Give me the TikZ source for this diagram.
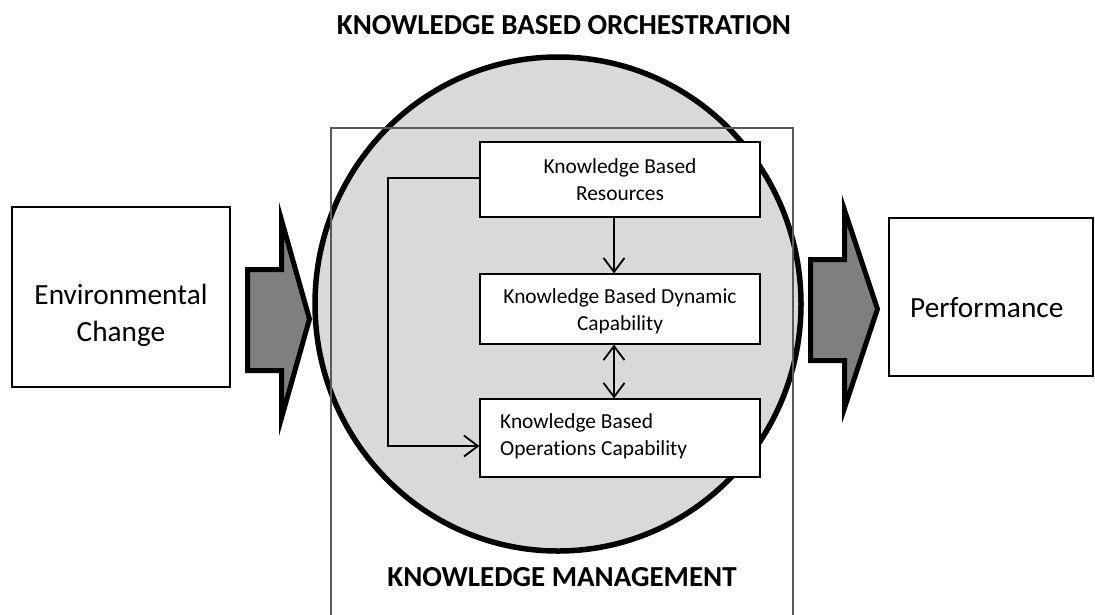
\documentclass[tikz,border=0pt]{standalone}
\usepackage{fontspec}
\setmainfont{Carlito}[Ligatures={NoCommon}]
\usetikzlibrary{arrows.meta}
\definecolor{arrowgray}{HTML}{7F7F7F}
\definecolor{circlegray}{HTML}{D9D9D9}
\definecolor{framegray}{HTML}{5A5A5A}
\begin{document}
\begin{tikzpicture}[x=1pt,y=-1pt,
  box/.style={draw=black, line width=1.2pt, fill=white, inner sep=0pt},
  boxtext/.style={font=\fontsize{21.4}{27.5}\selectfont, inner sep=0pt},
  bigtext/.style={font=\fontsize{29.3}{37}\selectfont, inner sep=0pt},
  heading/.style={font=\fontsize{29}{32}\selectfont\bfseries, inner sep=0pt},
  blockarrow/.style={draw=black, line width=5pt, fill=arrowgray, miter limit=10},
  flow/.style={line width=1.8pt, -{Straight Barb[length=14pt,width=21pt,line width=1.8pt]}},
  twoway/.style={line width=1.8pt, {Straight Barb[length=14pt,width=21pt,line width=1.8pt]}-{Straight Barb[length=14pt,width=21pt,line width=1.8pt]}}]
\useasboundingbox (0,0) rectangle (1095,614);

% orchestration circle and knowledge management frame
\draw[fill=circlegray, line width=5.5pt] (558,304) ellipse [x radius=243, y radius=247];
\draw[framegray, line width=1.5pt] (331,128) rectangle (793,625);

% headings
\node[heading] (orch) at (564,25) {KNOWLEDGE BASED ORCHESTRATION};
\node[heading] (km) at (562,577) {KNOWLEDGE MANAGEMENT};

% outer boxes
\node[box, minimum width=218pt, minimum height=180pt] (env) at (121,297) {};
\node[bigtext, align=center] (envtext) at (121,315) {Environmental\\Change};
\node[box, minimum width=204pt, minimum height=158pt] (perf) at (991,297) {};
\node[bigtext, anchor=west] (perftext) at (910,308) {Performance};

% block arrows
\draw[blockarrow] (247.5,269.5) -- (281.5,269.5) -- (281.5,220) -- (309.5,319)
  -- (281.5,418) -- (281.5,370.5) -- (247.5,370.5) -- cycle;
\draw[blockarrow] (810.5,259.5) -- (844.5,259.5) -- (844.5,210) -- (877.5,309)
  -- (844.5,408) -- (844.5,360.5) -- (810.5,360.5) -- cycle;

% inner boxes
\node[box, boxtext, align=center, minimum width=280pt, minimum height=75pt] (res) at (620,179.5)
  {Knowledge Based\\Resources};
\node[box, minimum width=280pt, minimum height=70pt] (dyn) at (620,309) {};
\begin{scope}
  \clip (480,274) rectangle (760,334);
  \node[boxtext, align=center] (dyntext) at (620,311.5) {Knowledge Based Dynamic\\Capability};
\end{scope}
\node[box, minimum width=280pt, minimum height=78pt] (ops) at (620,438) {};
\node[boxtext, align=left, anchor=west] (opstext) at (500,436.5)
  {Knowledge Based\\Operations Capability};

% connectors
\coordinate (feedtop) at (388,178);
\coordinate (feedbot) at (388,446);
\draw[flow] (res.south -| 614,0) -- (dyn.north -| 614,0);
\draw[twoway] (dyn.south -| 614,0) -- (ops.north -| 614,0);
\draw[flow] (res.west |- feedtop) -- (feedtop) -- (feedbot) -- (ops.west |- feedbot);
\end{tikzpicture}
\end{document}
